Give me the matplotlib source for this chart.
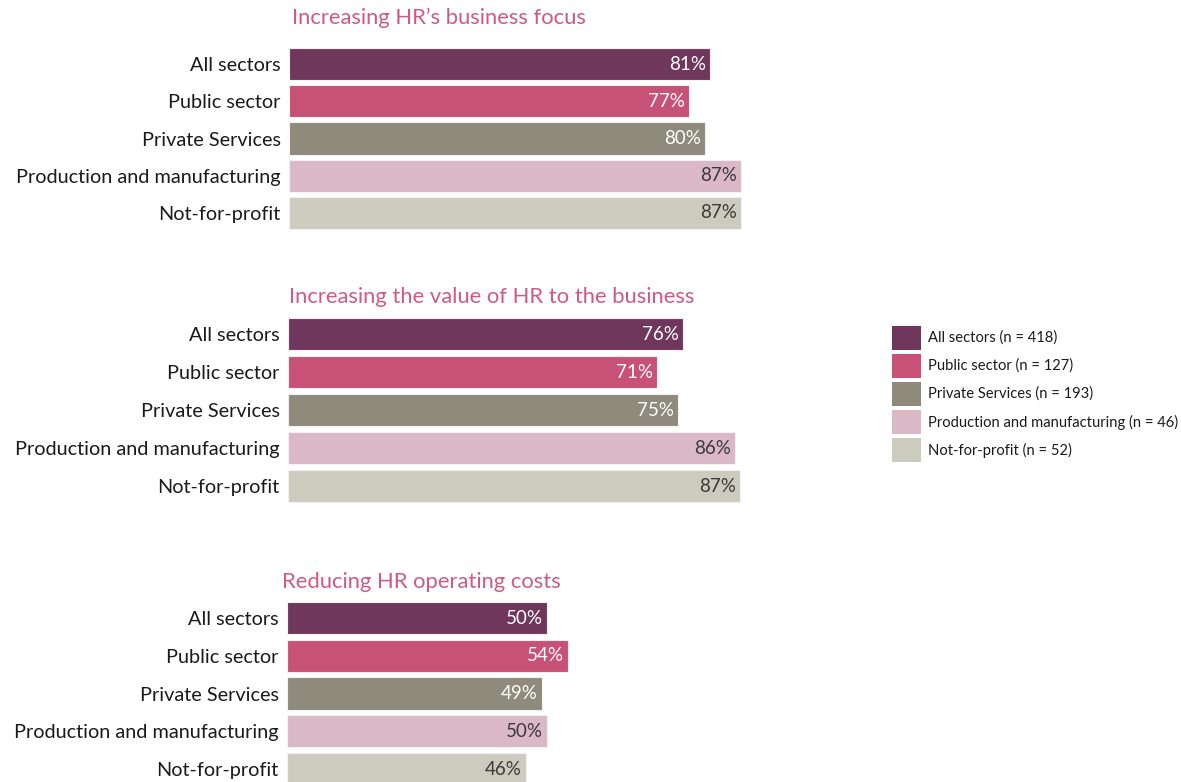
import matplotlib
matplotlib.use("Agg")
import matplotlib.pyplot as plt
from matplotlib.patches import Rectangle

plt.rcParams['font.family'] = ['Lato', 'DejaVu Sans']

sectors = ["All sectors", "Public sector", "Private Services",
           "Production and manufacturing", "Not-for-profit"]
sample_sizes = [418, 127, 193, 46, 52]
colors = ["#6F375C", "#C85177", "#8E8B7C", "#DAB8C6", "#CBCBBE"]
label_colors = ["white", "white", "white", "#3A3A3A", "#3A3A3A"]

titles = ["Increasing HR\u2019s business focus",
          "Increasing the value of HR to the business",
          "Reducing HR operating costs"]
business_focus = [81, 77, 80, 87, 87]
value_to_business = [76, 71, 75, 86, 87]
operating_costs = [50, 54, 49, 50, 46]
panel_values = [business_focus, value_to_business, operating_costs]

W, H = 1181, 782
fig = plt.figure(figsize=(W / 100, H / 100), dpi=100)
fig.patch.set_facecolor("white")

# panel geometry in pixels: left edge of bars, first/last bar centre, title x/y
panels = [
    dict(left=289, c0=64, c1=213, tx=292, ty=18),
    dict(left=288, c0=334, c1=486, tx=289, ty=297),
    dict(left=287, c0=618, c1=769, tx=282, ty=582),
]
px_per_pct = 5.2
title_color = "#CF5A82"

for spec, vals, title in zip(panels, panel_values, titles):
    pitch = (spec["c1"] - spec["c0"]) / 4
    top = spec["c0"] - pitch / 2
    height = pitch * 5
    width = 100 * px_per_pct
    ax = fig.add_axes([spec["left"] / W, 1 - (top + height) / H, width / W, height / H])
    ax.set_xlim(0, 100)
    ax.set_ylim(4.5, -0.5)
    ypos = list(range(len(sectors)))
    ax.barh(ypos, vals, height=0.86, color=colors, edgecolor="#F4F0F2", linewidth=0.8)
    for y, v, lc in zip(ypos, vals, label_colors):
        ax.text(v - 0.8, y, f"{v}%", ha="right", va="center", fontsize=13.5,
                color=lc)
    ax.set_yticks(ypos)
    ax.set_yticklabels(sectors, fontsize=14.3, color="#1A1A1A")
    ax.tick_params(axis="y", length=0, pad=6)
    ax.set_xticks([])
    for s in ax.spines.values():
        s.set_visible(False)
    fig.text(spec["tx"] / W, 1 - spec["ty"] / H, title, ha="left", va="center",
             fontsize=15.8, color=title_color)

# legend
lx, ly0, lstep = 892, 338, 28
for i, (name, n, c) in enumerate(zip(sectors, sample_sizes, colors)):
    cy = ly0 + i * lstep
    fig.patches.append(Rectangle(((lx) / W, 1 - (cy + 12) / H), 29 / W, 24 / H,
                                 transform=fig.transFigure, facecolor=c,
                                 edgecolor="none"))
    fig.text((lx + 36) / W, 1 - cy / H, f"{name} (n = {n})", ha="left",
             va="center", fontsize=10.6, color="#1A1A1A")

fig.savefig("out.png", dpi=100)
